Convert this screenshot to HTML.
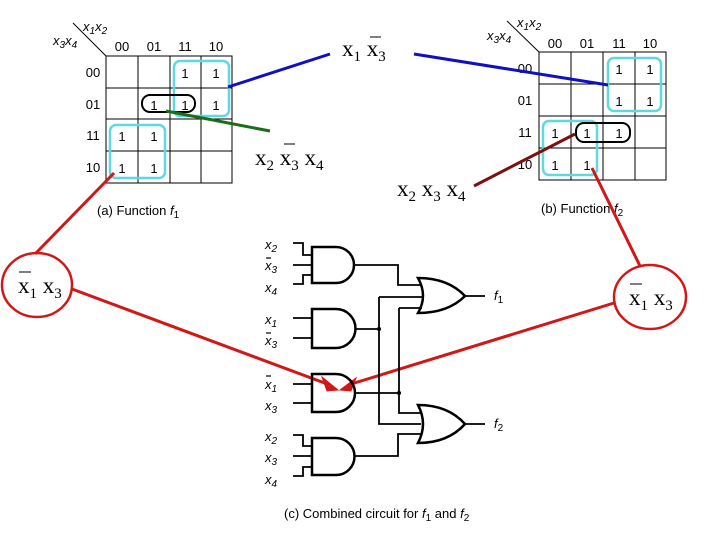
<!DOCTYPE html>
<html><head><style>
body{margin:0;background:#fff}
svg{display:block}
.s{font-family:"Liberation Sans",sans-serif;font-size:13px;fill:#000}
.r{font-family:"Liberation Serif",serif;font-size:23px;fill:#000}
.sub{font-size:15px}
</style></head><body>
<svg width="720" height="540" viewBox="0 0 720 540">
<!-- Left K-map -->
<g stroke="#000" stroke-width="1" fill="none">
<rect x="106" y="56" width="126" height="127"/>
<line x1="138" y1="56" x2="138" y2="183"/><line x1="170" y1="56" x2="170" y2="183"/><line x1="201" y1="56" x2="201" y2="183"/>
<line x1="106" y1="88" x2="232" y2="88"/><line x1="106" y1="119" x2="232" y2="119"/><line x1="106" y1="151" x2="232" y2="151"/>
<line x1="73" y1="23" x2="106" y2="56"/>
</g>
<g class="s" text-anchor="middle">
<text x="122" y="51">00</text><text x="154" y="51">01</text><text x="185" y="51">11</text><text x="216" y="51">10</text>
<text x="93" y="77">00</text><text x="93" y="109">01</text><text x="93" y="140">11</text><text x="93" y="172">10</text>
<text x="185" y="78">1</text><text x="216" y="78">1</text>
<text x="154" y="110">1</text><text x="185" y="110">1</text><text x="216" y="110">1</text>
<text x="122" y="141">1</text><text x="154" y="141">1</text>
<text x="122" y="173">1</text><text x="154" y="173">1</text>
</g>
<text class="s" x="53" y="45" font-style="italic">x<tspan dy="3" font-size="10">3</tspan><tspan dy="-3">x</tspan><tspan dy="3" font-size="10">4</tspan></text>
<text class="s" x="83" y="31" font-style="italic">x<tspan dy="3" font-size="10">1</tspan><tspan dy="-3">x</tspan><tspan dy="3" font-size="10">2</tspan></text>
<rect x="174" y="61" width="55" height="55" rx="6" fill="none" stroke="#5fd8e0" stroke-width="2.5"/>
<rect x="110" y="125" width="55" height="53" rx="6" fill="none" stroke="#5fd8e0" stroke-width="2.5"/>
<rect x="142" y="95" width="53" height="17" rx="8" fill="none" stroke="#000" stroke-width="2"/>
<text class="s" x="97" y="215">(a) Function <tspan font-style="italic">f</tspan><tspan dy="3" font-size="10">1</tspan></text>

<!-- Right K-map -->
<g stroke="#000" stroke-width="1" fill="none">
<rect x="539" y="52" width="127" height="128"/>
<line x1="571" y1="52" x2="571" y2="180"/><line x1="603" y1="52" x2="603" y2="180"/><line x1="635" y1="52" x2="635" y2="180"/>
<line x1="539" y1="84" x2="666" y2="84"/><line x1="539" y1="116" x2="666" y2="116"/><line x1="539" y1="148" x2="666" y2="148"/>
<line x1="507" y1="21" x2="539" y2="52"/>
</g>
<g class="s" text-anchor="middle">
<text x="555" y="48">00</text><text x="587" y="48">01</text><text x="619" y="48">11</text><text x="650" y="48">10</text>
<text x="525" y="73">00</text><text x="525" y="105">01</text><text x="525" y="137">11</text><text x="525" y="169">10</text>
<text x="619" y="74">1</text><text x="650" y="74">1</text>
<text x="619" y="106">1</text><text x="650" y="106">1</text>
<text x="555" y="138">1</text><text x="587" y="138">1</text><text x="619" y="138">1</text>
<text x="555" y="170">1</text><text x="587" y="170">1</text>
</g>
<text class="s" x="487" y="40" font-style="italic">x<tspan dy="3" font-size="10">3</tspan><tspan dy="-3">x</tspan><tspan dy="3" font-size="10">4</tspan></text>
<text class="s" x="517" y="27" font-style="italic">x<tspan dy="3" font-size="10">1</tspan><tspan dy="-3">x</tspan><tspan dy="3" font-size="10">2</tspan></text>
<rect x="608" y="58" width="53" height="53" rx="6" fill="none" stroke="#5fd8e0" stroke-width="2.5"/>
<rect x="543" y="121" width="54" height="54" rx="6" fill="none" stroke="#5fd8e0" stroke-width="2.5"/>
<rect x="576" y="123" width="54" height="19" rx="8" fill="none" stroke="#000" stroke-width="2"/>
<text class="s" x="541" y="213">(b) Function <tspan font-style="italic">f</tspan><tspan dy="3" font-size="10">2</tspan></text>

<!-- serif labels -->
<text class="r" x="342" y="56">x<tspan dy="5" class="sub">1</tspan><tspan dy="-5"> x</tspan><tspan dy="5" class="sub">3</tspan></text>
<line x1="370" y1="37" x2="381" y2="37" stroke="#000"/>
<text class="r" x="255" y="165">x<tspan dy="5" class="sub">2</tspan><tspan dy="-5"> x</tspan><tspan dy="5" class="sub">3</tspan><tspan dy="-5"> x</tspan><tspan dy="5" class="sub">4</tspan></text>
<line x1="284" y1="144" x2="295" y2="144" stroke="#000"/>
<text class="r" x="397" y="196">x<tspan dy="5" class="sub">2</tspan><tspan dy="-5"> x</tspan><tspan dy="5" class="sub">3</tspan><tspan dy="-5"> x</tspan><tspan dy="5" class="sub">4</tspan></text>
<text class="r" x="18" y="293">x<tspan dy="5" class="sub">1</tspan><tspan dy="-5"> x</tspan><tspan dy="5" class="sub">3</tspan></text>
<line x1="19" y1="272" x2="31" y2="272" stroke="#000"/>
<text class="r" x="629" y="305">x<tspan dy="5" class="sub">1</tspan><tspan dy="-5"> x</tspan><tspan dy="5" class="sub">3</tspan></text>
<line x1="630" y1="284" x2="642" y2="284" stroke="#000"/>

<!-- connectors -->
<line x1="228" y1="87" x2="330" y2="54" stroke="#1010c0" stroke-width="3"/>
<line x1="414" y1="54" x2="608" y2="85" stroke="#1010c0" stroke-width="3"/>
<line x1="166" y1="111" x2="270" y2="131" stroke="#1a6e1a" stroke-width="3"/>
<line x1="474" y1="186" x2="575" y2="134" stroke="#7a1010" stroke-width="3"/>
<ellipse cx="37" cy="285" rx="35" ry="32" fill="none" stroke="#d01818" stroke-width="2.5"/>
<ellipse cx="650" cy="297" rx="36" ry="32" fill="none" stroke="#d01818" stroke-width="2.5"/>
<g stroke="#d01818" stroke-width="3" fill="#d01818">
<line x1="35" y1="254" x2="114" y2="173"/>
<line x1="592" y1="168" x2="640" y2="266"/>
<line x1="72" y1="289" x2="330" y2="385"/>
<line x1="614" y1="303" x2="348" y2="385"/>
<polygon points="338,390 322,377 327,391" stroke-width="1"/>
<polygon points="340,390 356,378 351,391" stroke-width="1"/>
</g>

<!-- circuit -->
<g stroke="#000" stroke-width="2.5" fill="none">
<path d="M312,247 H336 A18,18 0 0 1 336,283 H312 Z"/>
<path d="M312,309 H336 A19.5,19.5 0 0 1 336,348 H312 Z"/>
<path d="M312,374 H336 A19,19 0 0 1 336,412 H312 Z"/>
<path d="M312,438 H336 A18.5,18.5 0 0 1 336,475 H312 Z"/>
<path d="M418,278 Q448,278 465,296 Q448,313 418,313 Q428,296 418,278 Z"/>
<path d="M418,405 Q448,405 465,424 Q448,443 418,443 Q428,424 418,405 Z"/>
<g stroke-width="1.8">
<path d="M293,243 H303 V255 H312"/><path d="M293,265 H312"/><path d="M293,284 H303 V275 H312"/>
<path d="M293,318 H312"/><path d="M293,338 H312"/>
<path d="M293,384 H312"/><path d="M293,403 H312"/>
<path d="M293,435 H303 V446 H312"/><path d="M293,456 H312"/><path d="M293,476 H303 V467 H312"/>
<path d="M355,265 H398 V285 H421"/>
<path d="M355,329 H379"/>
<path d="M379,297 V424 H421"/><path d="M379,297 H424"/>
<path d="M355,393 H399"/>
<path d="M399,308 H422"/><path d="M399,308 V413 H422"/>
<path d="M355,456 H398 V434 H421"/>
<path d="M465,296 H485"/><path d="M465,424 H485"/>
</g>
</g>
<circle cx="379" cy="329" r="2" fill="#000"/>
<circle cx="399" cy="393" r="2" fill="#000"/>
<g class="s" font-style="italic">
<text x="265" y="249">x<tspan dy="3" font-size="10">2</tspan></text>
<text x="265" y="270">x<tspan dy="3" font-size="10">3</tspan></text>
<text x="265" y="292">x<tspan dy="3" font-size="10">4</tspan></text>
<text x="265" y="324">x<tspan dy="3" font-size="10">1</tspan></text>
<text x="265" y="345">x<tspan dy="3" font-size="10">3</tspan></text>
<text x="265" y="389">x<tspan dy="3" font-size="10">1</tspan></text>
<text x="265" y="410">x<tspan dy="3" font-size="10">3</tspan></text>
<text x="265" y="441">x<tspan dy="3" font-size="10">2</tspan></text>
<text x="265" y="462">x<tspan dy="3" font-size="10">3</tspan></text>
<text x="265" y="484">x<tspan dy="3" font-size="10">4</tspan></text>
<text x="494" y="300">f<tspan dy="3" font-size="10" font-style="normal">1</tspan></text>
<text x="494" y="428">f<tspan dy="3" font-size="10" font-style="normal">2</tspan></text>
</g>
<g stroke="#000" stroke-width="1.2">
<line x1="266" y1="258" x2="271" y2="258"/><line x1="266" y1="333" x2="271" y2="333"/><line x1="266" y1="376" x2="271" y2="376"/>
</g>
<text class="s" x="284" y="518">(c) Combined circuit for <tspan font-style="italic">f</tspan><tspan dy="3" font-size="10">1</tspan><tspan dy="-3">  and  </tspan><tspan font-style="italic">f</tspan><tspan dy="3" font-size="10">2</tspan></text>
</svg>
</body></html>
